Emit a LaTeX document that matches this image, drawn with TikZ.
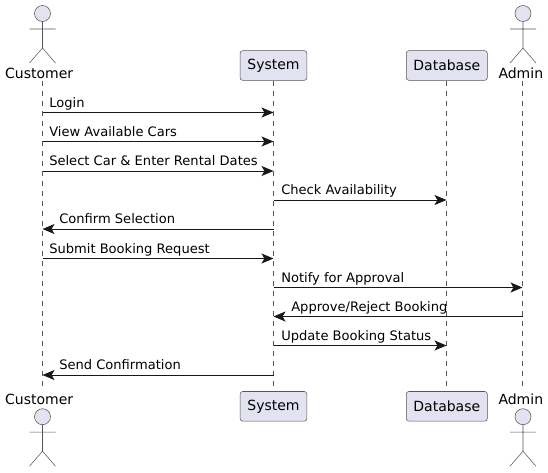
\documentclass[tikz,border=0pt]{standalone}
\usepackage{fontspec}
\setmainfont{DejaVu Sans}
\usetikzlibrary{arrows.meta}
\definecolor{pfill}{HTML}{E2E2F0}
\definecolor{pline}{HTML}{181818}
\definecolor{pthin}{HTML}{555555}
\begin{document}
\begin{tikzpicture}[x=0.75pt,y=-0.75pt,
 part/.style={draw=pthin,fill=pfill,rounded corners=1.9pt,line width=0.4pt,inner sep=0pt,minimum height=22.2pt,font=\fontsize{10.5pt}{12pt}\selectfont,text=black},
 lbl/.style={font=\fontsize{9.8pt}{12pt}\selectfont,inner sep=0pt,anchor=base west,text=black},
 head/.style={font=\fontsize{10.5pt}{12pt}\selectfont,inner sep=0pt,anchor=base,text=black},
 life/.style={draw=pthin,line width=0.38pt,dash pattern=on 3.75pt off 3.75pt},
 msg/.style={draw=pline,line width=0.75pt,-{Stealth[length=9pt,width=7.5pt,inset=2.2pt]}},
 limb/.style={draw=pthin,line width=0.4pt}]
\useasboundingbox (0,0) rectangle (548,472);
\fill[white] (0,0) rectangle (548,472);
\coordinate (ct) at (42.5,81); \coordinate (cb) at (42.5,391);
\coordinate (st) at (273.5,81); \coordinate (sb) at (273.5,391);
\coordinate (dt) at (446.5,81); \coordinate (db) at (446.5,391);
\coordinate (at) at (522.5,81); \coordinate (ab) at (522.5,391);
\draw[life] (ct)--(cb); \draw[life] (st)--(sb); \draw[life] (dt)--(db); \draw[life] (at)--(ab);
\node[part,minimum width=50pt] (s1) at (273.5,65.5) {System};
\node[part,minimum width=60.75pt] (d1) at (446.8,65.5) {Database};
\node[part,minimum width=50pt] (s2) at (273.5,406.3) {System};
\node[part,minimum width=60.75pt] (d2) at (446.8,406.3) {Database};
\foreach \x/\y in {42.5/0,523/0,42.5/403.2,523/403.2}{
 \draw[limb,fill=pfill] (\x,\y+13.5) circle [radius=6pt];
 \draw[limb] (\x,\y+21.5)--(\x,\y+48) (\x-13,\y+29)--(\x+13,\y+29) (\x,\y+48)--(\x-13,\y+63) (\x,\y+48)--(\x+13,\y+63);
}
\node[head] (c1) at (39.2,78) {Customer};
\node[head] (a1) at (520.8,78) {Admin};
\node[head] (c2) at (39.2,404) {Customer};
\node[head] (a2) at (520.8,404) {Admin};
\foreach \a/\b/\y/\t/\lx in {
 ct/st/112.5/{Login}/49,
 ct/st/141.5/{View Available Cars}/49,
 ct/st/171/{Select Car \& Enter Rental Dates}/49,
 st/dt/200/{Check Availability}/281,
 st/ct/229/{Confirm Selection}/59,
 ct/st/258.5/{Submit Booking Request}/49,
 st/at/287.5/{Notify for Approval}/281,
 at/st/316.5/{Approve/Reject Booking}/291,
 st/dt/345.5/{Update Booking Status}/281,
 st/ct/375/{Send Confirmation}/59}{
 \draw[msg] (\a |- 0,\y)--(\b |- 0,\y);
 \node[lbl] at (\lx,\y-5.2) {\t};
}
\end{tikzpicture}
\end{document}
